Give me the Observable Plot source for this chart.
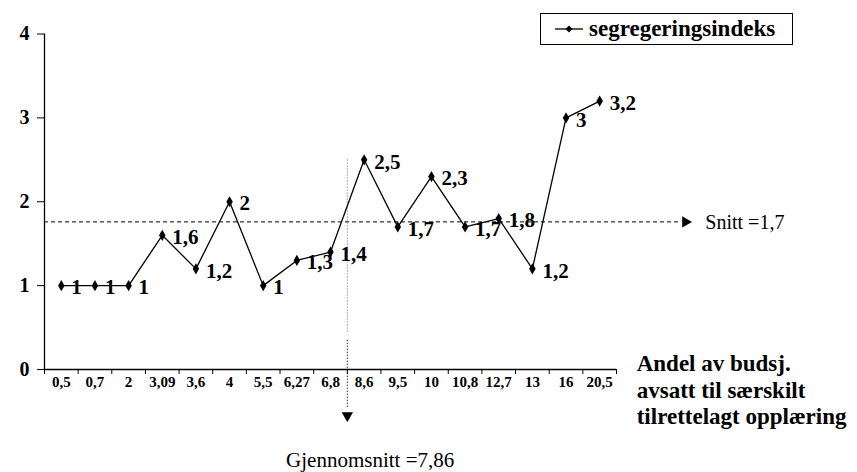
<!DOCTYPE html>
<html>
<head>
<meta charset="utf-8">
<script src="https://cdn.jsdelivr.net/npm/d3@7"></script>
<script src="https://cdn.jsdelivr.net/npm/@observablehq/plot@0.6"></script>
<style>
  body { margin: 0; background: #fff; }
  #chart { position: relative; width: 857px; height: 472px; font-family: 'Liberation Serif'; }
  #legend {
    position: absolute; left: 540px; top: 13px; width: 253px; height: 32px;
    box-sizing: border-box; border: 1.5px solid #000; background: #fff;
    display: flex; align-items: center; padding-left: 14px;
    font-family: 'Liberation Serif'; font-weight: bold; font-size: 23px; color: #000;
  }
  #legend svg { margin-right: 6px; }
</style>
</head>
<body>
<div id="chart">
  <div id="legend">
    <svg width="28" height="10"><line x1="0" y1="5" x2="28" y2="5" stroke="#000" stroke-width="1.3"/><path d="M14,1.5L17.5,5L14,8.5L10.5,5Z" fill="#000"/></svg>
    <span>segregeringsindeks</span>
  </div>
</div>
<script>
// Share of budget set aside for special adapted education (category order on x)
const budgetShares = [0.5, 0.7, 2, 3.09, 3.6, 4, 5.5, 6.27, 6.8, 8.6, 9.5, 10, 10.8, 12.7, 13, 16, 20.5];
// Segregation index per category
const segregering = [1, 1, 1, 1.6, 1.2, 2, 1, 1.3, 1.4, 2.5, 1.7, 2.3, 1.7, 1.8, 1.2, 3, 3.2];
const yTicks = [0, 1, 2, 3, 4];
const snitt = 1.76;          // average segregation index
const gjennomsnitt = 7.86;   // average budget share

const FONT = "Liberation Serif";
const comma = v => String(v).replace(".", ",");
const points = segregering.map((v, i) => ({
  i: i + 0.5,
  v,
  cat: comma(budgetShares[i]),
  label: comma(v)
}));

// x position of the budget-share average: boundary before the first larger category
const gjIndex = budgetShares.findIndex(d => d > gjennomsnitt);
const snittText = "Snitt =" + comma(Math.floor(snitt * 10) / 10);
const gjText = "Gjennomsnitt =" + comma(gjennomsnitt);

const plot = Plot.plot({
  width: 857,
  height: 472,
  marginTop: 33.5,
  marginBottom: 103,
  marginLeft: 44,
  marginRight: 241,
  x: { domain: [0, 17] },
  y: { domain: [0, 4] },
  style: { fontFamily: FONT, color: "#000", background: "transparent", overflow: "visible" },
  marks: [
    // average segregation line with arrow and label
    Plot.ruleY([snitt], { x1: 0, x2: 18.9, stroke: "#000", strokeWidth: 1, strokeDasharray: "4,3" }),
    Plot.dot([snitt], { x: 19.05, y: d => d, symbol: "triangle", rotate: 90, r: 4.2, fill: "#000", stroke: null }),
    Plot.text([snitt], { x: 19.64, y: d => d, text: () => snittText, textAnchor: "start", fontFamily: FONT, fontSize: 20, dy: 1 }),

    // average budget-share line with downward arrow and label
    Plot.ruleX([gjIndex], { y1: 2.5, y2: 0.44, stroke: "#999", strokeWidth: 1, strokeDasharray: "1.5,1.5" }),
    Plot.ruleX([gjIndex], { y1: 0.35, y2: -0.47, stroke: "#333", strokeWidth: 1, strokeDasharray: "1.5,1.5" }),
    Plot.dot([gjIndex], { x: d => d, y: -0.55, symbol: "triangle", rotate: 180, r: 4.2, fill: "#000", stroke: null }),
    Plot.text([gjIndex], { x: d => d + 0.68, y: -1.082, text: () => gjText, fontFamily: FONT, fontSize: 21 }),

    // axes
    Plot.ruleX([0], { stroke: "#000", strokeWidth: 1.3 }),
    Plot.ruleY([0], { stroke: "#000", strokeWidth: 1.3 }),
    Plot.axisY({ ticks: yTicks, tickSize: 7, tickPadding: 8, tickFormat: d => String(d), fontFamily: FONT, fontSize: 20, fontWeight: "bold", label: null, stroke: "#000" }),
    Plot.axisX({ ticks: d3.range(18), tickSize: 5, tickFormat: () => "", label: null, stroke: "#000" }),
    Plot.text(points, { x: "i", frameAnchor: "bottom", dy: 17, text: "cat", fontFamily: FONT, fontSize: 15, fontWeight: "bold" }),

    // series
    Plot.line(points, { x: "i", y: "v", stroke: "#000", strokeWidth: 1.3 }),
    Plot.dot(points, { x: "i", y: "v", symbol: "diamond", r: 3.4, fill: "#000", stroke: null }),
    Plot.text(points, { x: "i", y: "v", text: "label", textAnchor: "start", dx: 10, dy: 2, fontFamily: FONT, fontSize: 21, fontWeight: "bold" }),

    // x-axis title
    Plot.text(["Andel av budsj.\navsatt til særskilt\ntilrettelagt opplæring"], {
      x: 17.6, y: -0.238, text: d => d, textAnchor: "start", fontFamily: FONT, fontSize: 23, fontWeight: "bold", lineHeight: 1.15
    })
  ]
});

const chart = document.getElementById("chart");
plot.style.position = "absolute";
plot.style.left = "0";
plot.style.top = "0";
chart.insertBefore(plot, chart.firstChild);
</script>
</body>
</html>
